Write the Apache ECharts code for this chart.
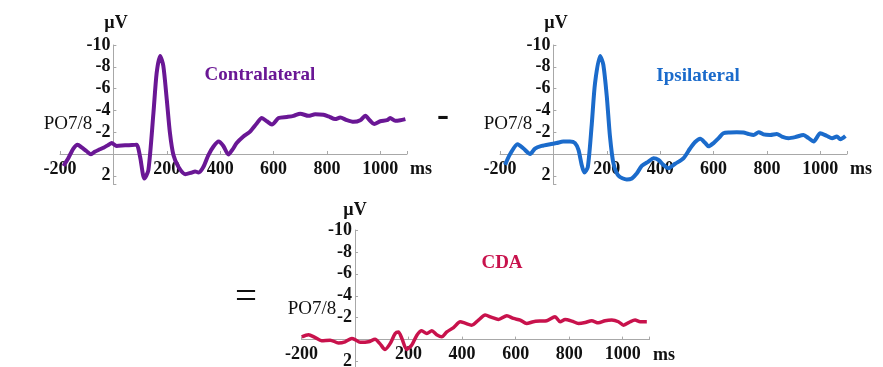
<!DOCTYPE html>
<html>
<head>
<meta charset="utf-8">
<script src="https://cdn.jsdelivr.net/npm/echarts@6/dist/echarts.min.js"></script>
<style>
html,body{margin:0;padding:0;background:#fff;}
#chart{width:883px;height:367px;}
</style>
</head>
<body>
<div id="chart"></div>
<script>
// ---- data (time in ms, amplitude in µV; negative plotted up) ----
var contraMs = [-187,-169,-150,-134,-119,-100,-84,-70,-56,-35,-19,-6,12,44,70,87,100,116,131,150,162,175,187,200,212,225,244,269,294,306,319,337,356,375,394,412,431,446,462,487,512,537,556,575,594,619,650,675,700,731,756,787,806,831,850,875,900,925,944,962,977,1000,1025,1037,1056,1075,1094];
var contraUv = [1.1,0.4,-0.5,-0.85,-0.6,-0.25,0.03,-0.2,-0.37,-0.6,-0.83,-1.0,-0.74,-0.8,-0.82,-0.85,0.25,2.25,1.5,-3.75,-7.4,-9.0,-8.1,-5.0,-1.9,0.1,1.2,1.85,1.7,1.6,1.7,1.2,0.1,-0.68,-1.14,-0.74,0.05,-0.4,-1.0,-1.6,-2.05,-2.8,-3.3,-3.0,-2.7,-3.3,-3.4,-3.5,-3.7,-3.5,-3.65,-3.6,-3.45,-3.2,-3.35,-3.1,-2.95,-3.1,-3.5,-3.05,-2.75,-3.0,-3.1,-3.3,-3.05,-3.1,-3.2];

var ipsiMs = [-181,-162,-134,-112,-87,-69,-44,-12,12,37,62,81,94,106,116,129,144,156,175,187,200,212,225,244,275,294,312,331,356,375,394,412,431,456,487,512,531,550,569,581,600,619,637,662,687,712,731,750,769,787,812,837,856,881,906,937,956,975,1000,1025,1044,1062,1075,1094];
var ipsiUv = [1.0,0,-0.9,-0.5,0,-0.5,-0.74,-0.9,-1.0,-1.14,-1.14,-1.0,-0.37,1.0,1.7,1.2,-2.8,-6.5,-9.0,-8.2,-5.3,-1.6,0.86,2.0,2.35,2.25,1.8,1.1,0.7,0.4,0.55,1.0,1.3,0.9,0.4,-0.5,-1.1,-1.4,-1.0,-0.7,-1.0,-1.45,-1.9,-1.97,-2.0,-1.97,-1.84,-1.75,-2.0,-1.8,-1.75,-1.84,-1.6,-1.45,-1.55,-1.75,-1.45,-1.15,-1.9,-1.65,-1.45,-1.6,-1.35,-1.65];

var cdaMs = [-199,-174,-150,-125,-93,-62,-37,-12,0,19,50,75,93,112,131,150,162,175,193,212,231,249,268,287,305,324,343,368,393,411,436,461,486,511,536,567,592,617,641,666,691,716,747,766,785,810,835,860,884,909,934,959,984,1003,1028,1046,1065,1090];
var cdaUv = [-0.25,-0.45,-0.2,0.1,0.05,0.3,0.2,-0.1,0,0.25,0.2,-0.03,0.37,0.9,0.37,-0.55,-0.7,-0.1,0.9,0.5,-0.4,-0.8,-0.55,-0.8,-0.45,-0.25,-0.7,-1.1,-1.63,-1.5,-1.32,-1.78,-2.24,-2.02,-1.84,-2.18,-1.93,-1.78,-1.47,-1.63,-1.69,-1.72,-2.09,-1.63,-1.84,-1.69,-1.47,-1.56,-1.72,-1.53,-1.72,-1.78,-1.63,-1.32,-1.63,-1.78,-1.63,-1.63];

var xTicks = [-200, 200, 400, 600, 800, 1000];
var yTicks = [-10, -8, -6, -4, -2, 2];
var titles = ['Contralateral', 'Ipsilateral', 'CDA'];
var colors = ['#6a1795', '#1b6bcb', '#c8124c'];

function pairs(t, v) { return t.map(function (x, i) { return [x, v[i]]; }); }

var FONT = '"Liberation Serif","Times New Roman",serif';
var axisGrey = '#a8a8a8';

var X_MIN = -200, X_MAX = 1100, Y_MIN = -10;
var grids = [
  {left: 60, top: 45, width: 347, height: 139.5, outerBoundsMode: 'none', containLabel: false},
  {left: 500, top: 45, width: 347, height: 139.5, outerBoundsMode: 'none', containLabel: false},
  {left: 301.5, top: 230, width: 348, height: 137, outerBoundsMode: 'none', containLabel: false}
];
var yMax = [2.8, 2.8, 2.5];

// axes cross at (0,0): shift them from the grid edges by the scale's zero position
var xAxes = grids.map(function (g, i) {
  var zeroFromBottom = g.height * (yMax[i] - 0) / (yMax[i] - Y_MIN);
  return {
    type: 'value', gridIndex: i, min: X_MIN, max: X_MAX, interval: 200,
    position: 'bottom', offset: -zeroFromBottom,
    axisLine: {onZero: false, lineStyle: {color: axisGrey, width: 1}},
    axisTick: {show: true, inside: true, length: 3, lineStyle: {color: axisGrey}},
    splitLine: {show: false},
    axisLabel: {
      margin: 6, color: '#111', fontFamily: FONT, fontWeight: 'bold', fontSize: 18,
      formatter: function (v) { return xTicks.indexOf(v) >= 0 ? String(v) : ''; }
    }
  };
});
var yAxes = grids.map(function (g, i) {
  var zeroFromLeft = g.width * (0 - X_MIN) / (X_MAX - X_MIN);
  return {
    type: 'value', gridIndex: i, min: Y_MIN, max: yMax[i], interval: 2, inverse: true,
    position: 'left', offset: -zeroFromLeft,
    axisLine: {show: true, onZero: false, lineStyle: {color: axisGrey, width: 1}},
    axisTick: {show: true, inside: true, length: 3, lineStyle: {color: axisGrey}},
    splitLine: {show: false},
    axisLabel: {
      margin: 3, color: '#111', fontFamily: FONT, fontWeight: 'bold', fontSize: 18,
      formatter: function (v) { return yTicks.indexOf(v) >= 0 ? String(v) : ''; }
    }
  };
});

var datasets = [pairs(contraMs, contraUv), pairs(ipsiMs, ipsiUv), pairs(cdaMs, cdaUv)];
var series = datasets.map(function (d, i) {
  return {
    type: 'line', xAxisIndex: i, yAxisIndex: i, data: d, showSymbol: false,
    smooth: 0.25, lineStyle: {color: colors[i], width: i === 2 ? 3.5 : 4}, silent: true
  };
});

function txt(text, x, y, size, weight, color) {
  return {type: 'text', x: x, y: y, silent: true,
    style: {text: text, font: weight + ' ' + size + 'px ' + FONT, fill: color,
      textAlign: 'center', textVerticalAlign: 'middle'}};
}

var graphics = [
  txt('\u00b5V', 116, 23, 18, 'bold', '#111'),
  txt('\u00b5V', 556, 23, 18, 'bold', '#111'),
  txt('\u00b5V', 355, 210, 18, 'bold', '#111'),
  txt('ms', 421, 169, 18, 'bold', '#111'),
  txt('ms', 861, 169, 18, 'bold', '#111'),
  txt('ms', 664, 355, 18, 'bold', '#111'),
  txt('PO7/8', 68, 124, 19, 'normal', '#111'),
  txt('PO7/8', 508, 124, 19, 'normal', '#111'),
  txt('PO7/8', 312, 309, 19, 'normal', '#111'),
  txt(titles[0], 260, 75, 19, 'bold', colors[0]),
  txt(titles[1], 698, 76, 19, 'bold', colors[1]),
  txt(titles[2], 502, 263, 19, 'bold', colors[2]),
  txt('-', 443, 117, 36, 'bold', '#111'),
  txt('=', 246, 299, 39, 'normal', '#111')
];

var chart = echarts.init(document.getElementById('chart'), null, {renderer: 'canvas'});
chart.setOption({
  animation: false,
  backgroundColor: '#fff',
  grid: grids,
  xAxis: xAxes,
  yAxis: yAxes,
  series: series,
  graphic: graphics
});
</script>
</body>
</html>
